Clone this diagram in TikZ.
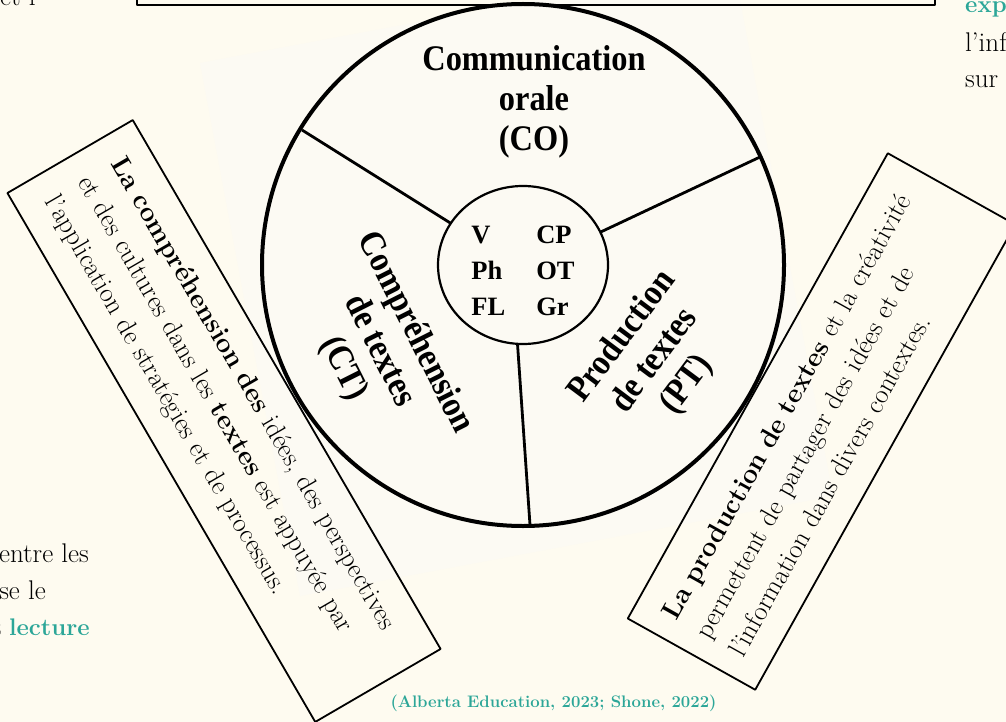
\documentclass[tikz,border=0pt]{standalone}
\usepackage{fontspec}
\usetikzlibrary{shapes.geometric}
\newfontfamily\cerclefont[FakeStretch=0.9]{Liberation Serif}
\newfontfamily\siglefont{Liberation Serif}
\definecolor{creme}{RGB}{254,251,240}
\definecolor{scan}{RGB}{252,250,243}
\definecolor{sarcelle}{RGB}{44,166,152}
\begin{document}
\begin{tikzpicture}[x=1pt,y=-1pt,line join=round,
  secteur/.style={font=\cerclefont\bfseries\fontsize{36}{40}\selectfont,align=center,inner sep=0pt},
  encadre/.style={draw,line width=1.8pt,font=\fontsize{27}{38}\selectfont,align=left,inner ysep=8pt},
  corps/.style={font=\fontsize{27}{37}\selectfont,inner sep=0pt}]
\useasboundingbox (0,0) rectangle (1006,722);
\clip (0,0) rectangle (1006,722);
\fill[creme] (0,0) rectangle (1006,722);
\fill[scan] (200,63)--(733,-37)--(833,496)--(300,596)--cycle;
\draw[line width=1.8pt] (137,-10)--(137,5)--(935,5)--(935,-10);
\path (523,265) coordinate (O)
(302,130) coordinate (A)
(760,157) coordinate (B)
(530,525) coordinate (C);
\draw[line width=4pt] (O) circle[radius=261pt];
\node[draw,ellipse,line width=2.2pt,minimum width=170pt,minimum height=158pt,outer sep=0pt] (noyau) at (O) {};
\draw[line width=2.8pt] (noyau.150)--(A) (noyau.23)--(B) (noyau.266)--(C);
\node[font=\siglefont\bfseries\fontsize{26.5}{36}\selectfont,inner sep=0pt] (sigles) at (523,272)
  {\begin{tabular}{@{}l@{\hspace{31pt}}l@{}}V&CP\\Ph&OT\\FL&Gr\end{tabular}};
\node[secteur] (co) at (534,102) {Communication\\orale\\(CO)};
\node[secteur,rotate=-63.3] (ct) at (379,351) {Compréhension\\de textes\\(CT)};
\node[secteur,rotate=53.2] (pt) at (655,361) {Production\\de textes\\(PT)};
\node[encadre,rotate=-59.8,minimum width=612pt,minimum height=145pt,text width=560pt,inner xsep=26pt] (boiteCT) at (224,421)
  {\textbf{La compréhension des} idées, des perspectives\\et des cultures dans les \textbf{textes} est appuyée par\\l'application de stratégies et de processus.};
\node[encadre,rotate=60.8,minimum width=533pt,minimum height=146pt,text width=491pt,inner xsep=21pt] (boitePT) at (821.5,421.5)
  {\textbf{La production de textes} et la créativité\\permettent de partager des idées et de\\l'information dans divers contextes.};
\node[font=\bfseries\fontsize{16.7}{20}\selectfont,text=sarcelle,anchor=base,inner sep=0pt] (source) at (553.5,707)
  {(Alberta Education, 2023; Shone, 2022)};
\node[corps,anchor=base west] (hautg) at (0,6) {et l};
\node[corps,anchor=base east] (basg1) at (89,562) {entre les};
\node[corps,anchor=base east] (basg2) at (46,599) {se le};
\node[corps,anchor=base east,font=\fontsize{24}{37}\selectfont] (basg3) at (90,635) {t \textcolor{sarcelle}{\textbf{lecture}}};
\node[corps,anchor=base west,text=sarcelle,font=\bfseries\fontsize{24}{37}\selectfont] (hautd1) at (965,13) {exp};
\node[corps,anchor=base west] (hautd2) at (965,52) {l'inf};
\node[corps,anchor=base west] (hautd3) at (965,88) {sur};
\end{tikzpicture}
\end{document}
